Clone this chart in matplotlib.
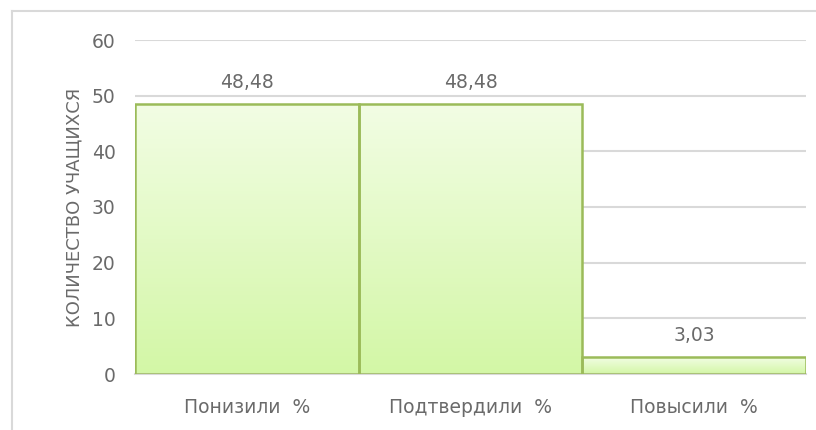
import numpy as np
import matplotlib.pyplot as plt
from matplotlib.lines import Line2D
from matplotlib.colors import LinearSegmentedColormap

categories = ['Понизили  %', 'Подтвердили  %', 'Повысили  %']
values = [48.48, 48.48, 3.03]
labels = ['48,48', '48,48', '3,03']

plt.rcParams['font.family'] = ['DejaVu Sans']
txt = '#6a6a6a'
fs = 13.5

fig = plt.figure(figsize=(8.16, 4.30), dpi=100)
ax = fig.add_axes([135/816, 56/430, 671/816, 334/430])

# outer chart border (only top and left visible in the crop)
fig.add_artist(Line2D([12/816, 12/816], [0, 419/430], color='#d9d9d9', lw=1.5))
fig.add_artist(Line2D([12/816, 1], [419/430, 419/430], color='#d9d9d9', lw=1.5))

ax.set_ylim(0, 60)
ax.set_yticks(range(0, 61, 10))
ax.yaxis.grid(True, color='#d9d9d9', lw=1.5)
ax.set_axisbelow(True)
for s in ['top', 'right', 'left']:
    ax.spines[s].set_visible(False)
ax.spines['bottom'].set_color('#d9d9d9')
ax.spines['bottom'].set_linewidth(1.5)
ax.tick_params(length=0, labelsize=fs, colors=txt, pad=14)
ax.tick_params(axis='x', pad=17)

cmap = LinearSegmentedColormap.from_list('g', ['#d3f7a6', '#f2fde4'])
grad = np.linspace(0, 1, 256).reshape(-1, 1)
bars = ax.bar(range(len(values)), values, width=1.0, facecolor='none',
              edgecolor='#9bbb59', linewidth=1.8, zorder=3)
for b in bars:
    x0, w, h = b.get_x(), b.get_width(), b.get_height()
    im = ax.imshow(grad, cmap=cmap, origin='lower', aspect='auto',
                   extent=(x0, x0 + w, 0, h), zorder=2)
    im.set_clip_path(b)
ax.set_xlim(-0.5, 2.5)
ax.set_ylim(0, 60)

for i, (v, lab) in enumerate(zip(values, labels)):
    ax.annotate(lab, (i, v), xytext=(0, 9), textcoords='offset points',
                ha='center', va='bottom', fontsize=fs, color=txt)

ax.set_xticks(range(len(categories)))
ax.set_xticklabels(categories)
ax.set_ylabel('КОЛИЧЕСТВО УЧАЩИХСЯ', fontsize=13, color=txt, labelpad=6)

fig.savefig('out.png', dpi=100)
